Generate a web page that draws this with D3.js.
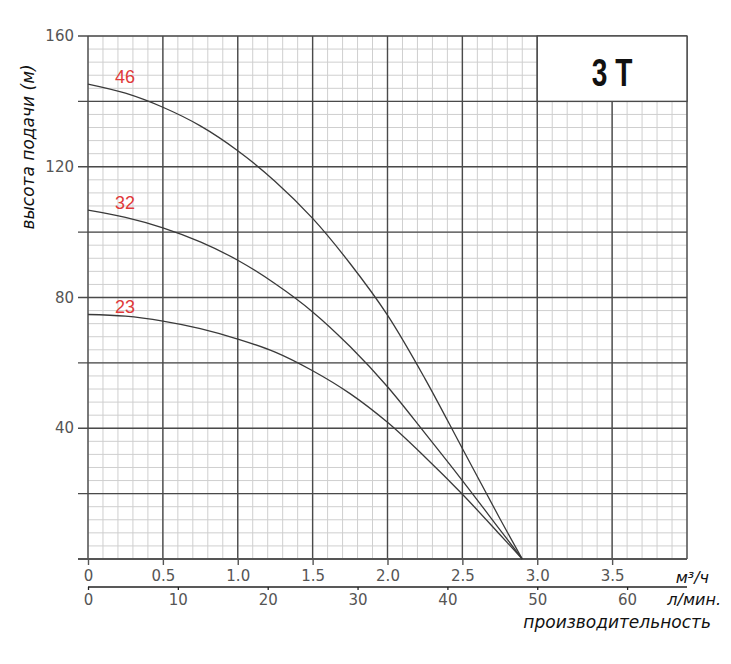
<!DOCTYPE html>
<html><head><meta charset="utf-8">
<script src="https://cdn.jsdelivr.net/npm/d3@7"></script>
<style>body{margin:0;background:#fff}svg{display:block}</style>
</head><body><div id="chart"></div>
<script>
const flow = [0, 0.25, 0.5, 0.75, 1.0, 1.25, 1.5, 1.75, 2.0, 2.25, 2.5, 2.75, 2.9];
const head46 = [145.3, 142.5, 138.2, 132.5, 124.9, 115.5, 104.2, 90.4, 74.6, 55.2, 33.8, 12.4, 0];
const head32 = [106.7, 104.5, 101.3, 97.0, 91.4, 84.2, 75.6, 65.0, 52.7, 38.5, 24.0, 9.0, 0];
const head23 = [74.8, 74.3, 72.8, 70.5, 67.3, 63.3, 57.6, 50.6, 41.8, 31.2, 19.8, 7.5, 0];
const seriesNames = ["46", "32", "23"];
const yTickLabels = [40, 80, 120, 160];
const xTicks = [0, 0.5, 1.0, 1.5, 2.0, 2.5, 3.0, 3.5];
const lpmTicks = [0, 10, 20, 30, 40, 50, 60];
const title = "3 T";

const W = 731, H = 664;
const svg = d3.select("#chart").append("svg").attr("width", W).attr("height", H);
const x = d3.scaleLinear().domain([0, 4]).range([88, 687]);
const y = d3.scaleLinear().domain([0, 160]).range([559, 36]);
const xl = d3.scaleLinear().domain([0, 4000/60]).range([88, 687]);

const g = svg.append("g");
// minor grid
g.selectAll(".vmin").data(d3.range(0, 41).map(i => i/10)).join("line")
  .attr("x1", d => x(d)).attr("x2", d => x(d)).attr("y1", y(0)).attr("y2", y(160))
  .attr("stroke", "#cfcfcf").attr("stroke-width", 1);
g.selectAll(".hmin").data(d3.range(0, 41).map(i => i*4)).join("line")
  .attr("y1", d => y(d)).attr("y2", d => y(d)).attr("x1", x(0)).attr("x2", x(4))
  .attr("stroke", "#cfcfcf").attr("stroke-width", 1);
// major grid
g.selectAll(".vmaj").data(d3.range(0, 9).map(i => i/2)).join("line")
  .attr("x1", d => x(d)).attr("x2", d => x(d)).attr("y1", y(0)).attr("y2", y(160))
  .attr("stroke", "#4a4a4a").attr("stroke-width", 1.4);
g.selectAll(".hmaj").data(d3.range(0, 9).map(i => i*20)).join("line")
  .attr("y1", d => y(d)).attr("y2", d => y(d)).attr("x1", 78).attr("x2", x(4))
  .attr("stroke", "#4a4a4a").attr("stroke-width", 1.4);

// title box
g.append("rect").attr("x", x(3)).attr("y", y(160)).attr("width", x(4)-x(3)).attr("height", y(140)-y(160))
  .attr("fill", "#fff").attr("stroke", "#4a4a4a").attr("stroke-width", 1.4);
g.append("text").attr("transform", `translate(${(x(3)+x(4))/2},86) scale(0.74,1)`).attr("text-anchor", "middle")
  .attr("font-family", "'Liberation Sans',Arial,sans-serif")
  .attr("font-weight", "bold").attr("font-size", 38).attr("fill", "#111").text(title);

// y labels
g.selectAll(".yl").data(yTickLabels).join("text")
  .attr("x", 74).attr("y", d => y(d) + 5).attr("text-anchor", "end")
  .attr("font-family", "'DejaVu Sans',sans-serif").attr("font-size", 15).attr("fill", "#555").text(d => d);

// x axis main
const xAxis = d3.axisBottom(x).tickValues(xTicks).tickSize(6).tickPadding(5)
  .tickFormat(d => d === 0 ? "0" : d.toFixed(1));
const xa = svg.append("g").attr("transform", `translate(0,${y(0)})`).call(xAxis);
xa.select(".domain").attr("d", `M78,0H${x(4)}`).attr("stroke", "#555").attr("stroke-width", 2);
xa.selectAll(".tick line").attr("stroke", "#555").attr("stroke-width", 1.4);
xa.selectAll(".tick text").attr("font-family", "'DejaVu Sans',sans-serif").attr("font-size", 15).attr("fill", "#555");

// l/min axis
const lAxis = d3.axisBottom(xl).tickValues(lpmTicks).tickSize(3).tickPadding(4);
const la = svg.append("g").attr("transform", "translate(0,587)").call(lAxis);
la.select(".domain").attr("d", `M${x(0)},0H${x(4)}`).attr("stroke", "#222").attr("stroke-width", 1.5);
la.selectAll(".tick line").attr("stroke", "#222").attr("stroke-width", 1.3);
la.selectAll(".tick text").attr("font-family", "'DejaVu Sans',sans-serif").attr("font-size", 15).attr("fill", "#555");

// curves
const line = d3.line().x((d, i) => x(flow[i])).y(d => y(d)).curve(d3.curveCatmullRom.alpha(0.5));
const series = [head46, head32, head23];
svg.selectAll(".curve").data(series).join("path")
  .attr("d", line).attr("fill", "none").attr("stroke", "#3a3a3a").attr("stroke-width", 1.3);
svg.selectAll(".slabel").data(series).join("text")
  .attr("x", 125).attr("y", d => y(d[0]) - 1).attr("text-anchor", "middle")
  .attr("font-family", "'Liberation Sans',Arial,sans-serif").attr("font-size", 18).attr("fill", "#e03a3a")
  .text((d, i) => seriesNames[i]);

// units
const uf = "'DejaVu Sans',sans-serif";
svg.append("text").attr("x", 709).attr("y", 583).attr("text-anchor", "end").attr("font-family", uf)
  .attr("font-style", "italic").attr("font-size", 16).attr("fill", "#111").text("м³/ч");
svg.append("text").attr("x", 721).attr("y", 605).attr("text-anchor", "end").attr("font-family", uf)
  .attr("font-style", "italic").attr("font-size", 16).attr("fill", "#111").text("л/мин.");
svg.append("text").attr("x", 711).attr("y", 628).attr("text-anchor", "end").attr("font-family", uf)
  .attr("font-style", "italic").attr("font-size", 17).attr("fill", "#111").text("производительность");
svg.append("text").attr("transform", "translate(34,147) rotate(-90)").attr("text-anchor", "middle")
  .attr("font-family", uf).attr("font-style", "italic").attr("font-size", 17).attr("fill", "#111")
  .text("высота подачи (м)");
</script></body></html>
